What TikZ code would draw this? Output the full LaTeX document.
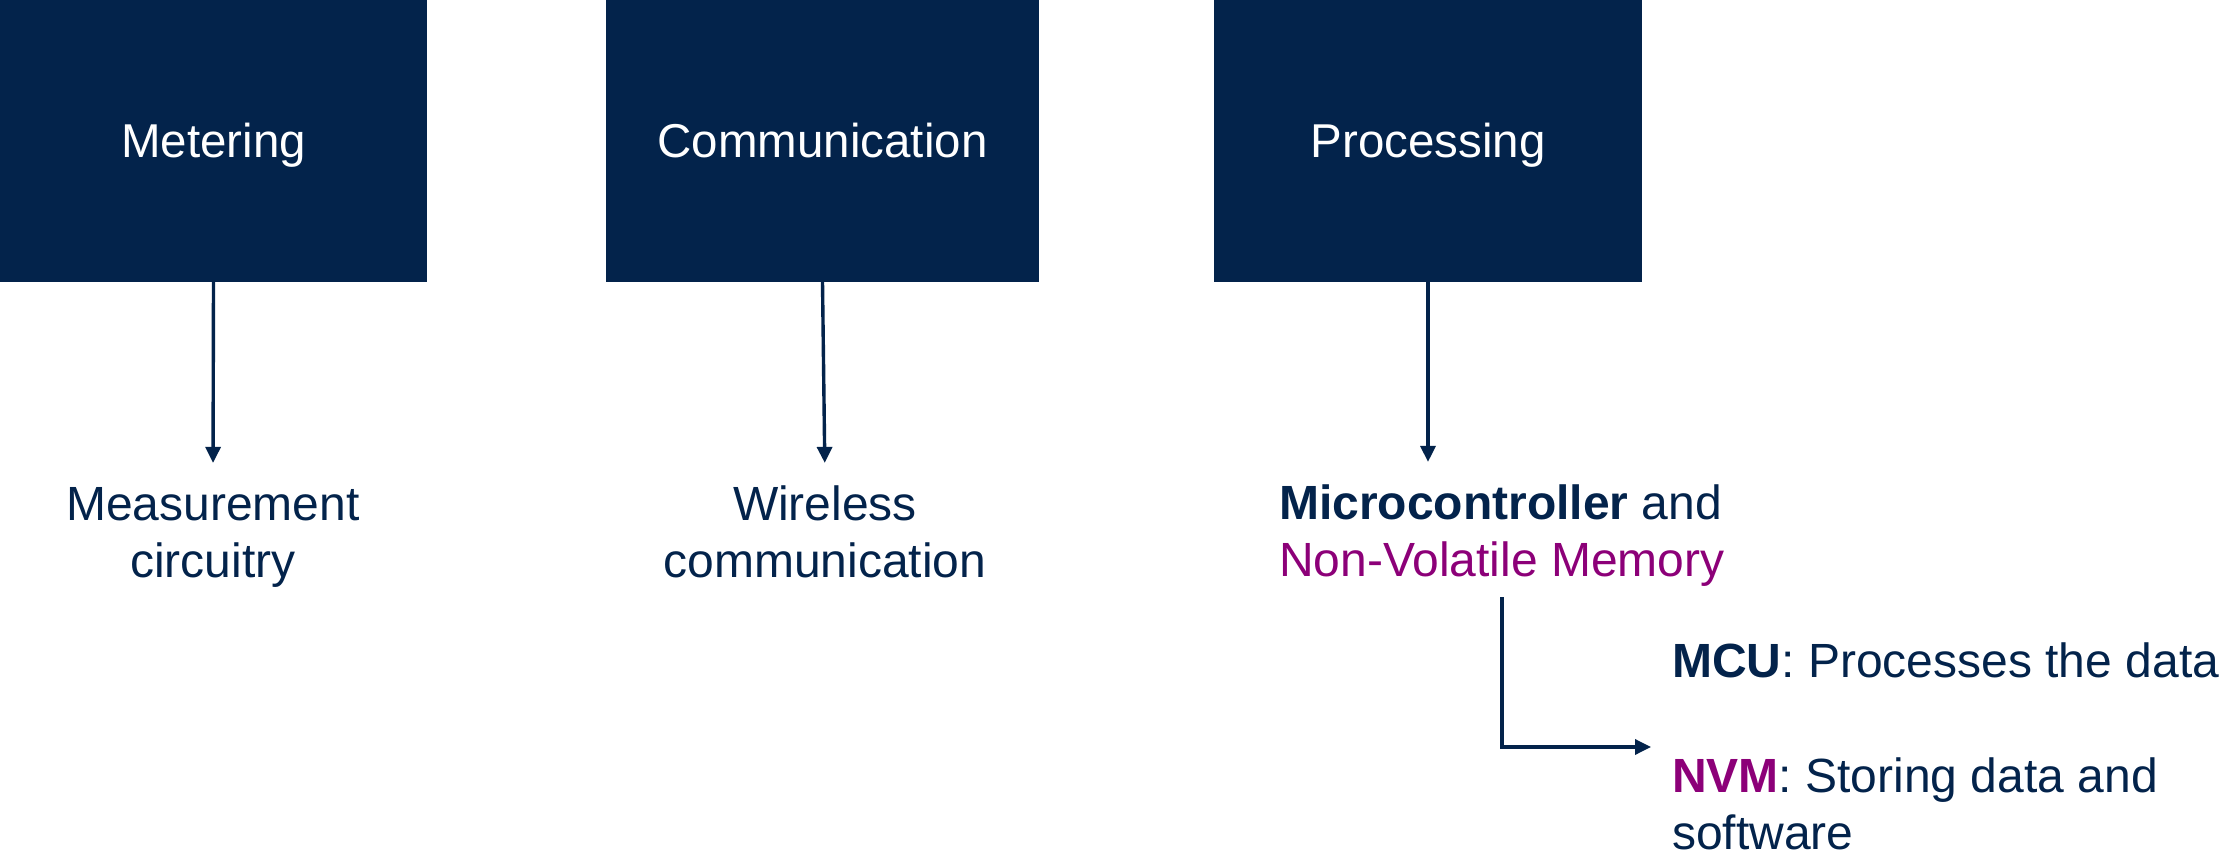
\documentclass[tikz,border=0pt]{standalone}
\usepackage{fontspec}
\setmainfont{Liberation Sans}
\usetikzlibrary{arrows.meta}
\definecolor{stnavy}{HTML}{03234B}
\definecolor{stpurple}{HTML}{8C0078}
\newcommand{\clines}[1]{\begin{tabular}[t]{@{}c@{}}#1\end{tabular}}
\newcommand{\llines}[1]{\begin{tabular}[t]{@{}l@{}}#1\end{tabular}}
\begin{document}
\begin{tikzpicture}[x=1pt,y=-1pt,
  box/.style={rectangle, fill=stnavy, text=white, inner sep=0pt, minimum height=282pt,
    text height=34pt, text depth=0pt, font=\fontsize{47.5}{57}\selectfont},
  lbl/.style={inner sep=0pt, text=stnavy, font=\fontsize{48}{57}\selectfont},
  arr/.style={draw=stnavy, line width=3.4pt, -{Triangle[length=16pt,width=15pt]}}]
\useasboundingbox (0,0) rectangle (2227,858);
\node[box, minimum width=427pt] (metering) at (213.5,141) {Metering};
\node[box, minimum width=433pt] (comm) at (822.5,141) {Communication};
\node[box, minimum width=428pt] (proc) at (1428,141) {Processing};

\node[lbl, anchor=base] (meas) at (213,520) {\clines{Measurement\\circuitry}};
\node[lbl, anchor=base] (wire) at (825,520) {\clines{Wireless\\communication}};
\node[lbl, anchor=base west] (mcu) at (1279,519) {\llines{\textbf{Microcontroller} and\\\textcolor{stpurple}{Non-Volatile Memory}}};
\node[lbl, anchor=base west] (mcud) at (1672,677) {\textbf{MCU}: Processes the data};
\node[lbl, anchor=base west] (nvmd) at (1672,792) {\llines{\textcolor{stpurple}{\textbf{NVM}}: Storing data and\\software}};
\coordinate (elb) at (1651,747);

\draw[arr, shorten >=17pt] (metering.south) -- (meas.north);
\draw[arr, shorten >=17pt] (comm.south) -- (wire.north);
\draw[arr, shorten >=17pt] (proc.south) -- (proc.south |- mcu.north);
\draw[arr, shorten <=4pt] (mcu.south) |- (elb);
\end{tikzpicture}
\end{document}
